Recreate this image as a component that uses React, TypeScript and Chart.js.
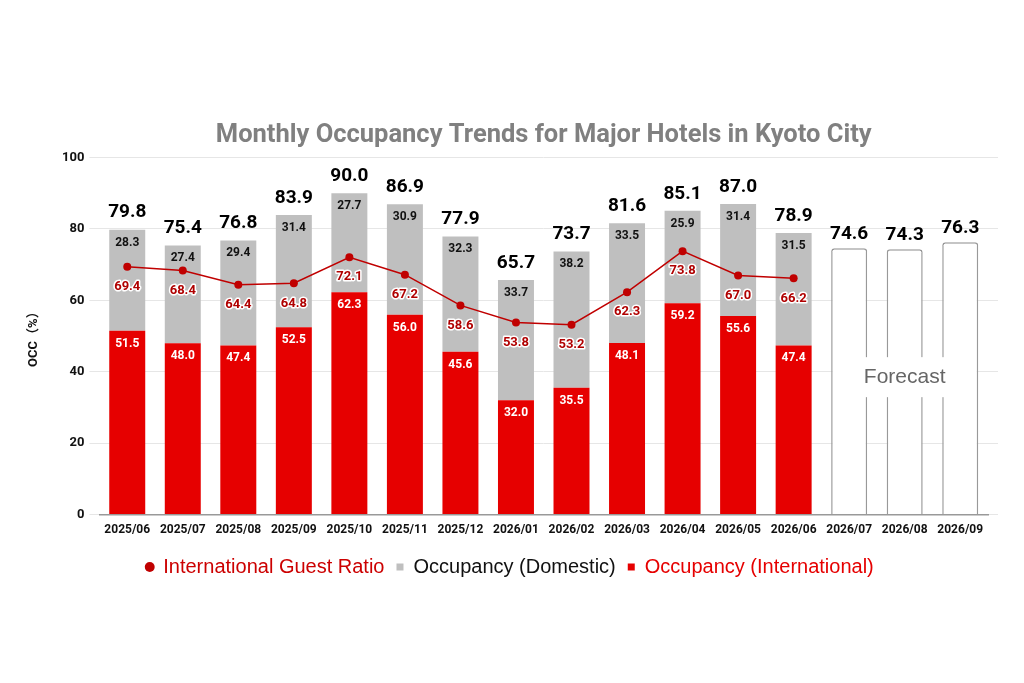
import { useEffect, useRef } from "react";
import { Chart, registerables } from "chart.js";

Chart.register(...registerables);

const months = [
  "2025/06", "2025/07", "2025/08", "2025/09", "2025/10", "2025/11", "2025/12",
  "2026/01", "2026/02", "2026/03", "2026/04", "2026/05", "2026/06",
  "2026/07", "2026/08", "2026/09",
];
const international = [51.5, 48.0, 47.4, 52.5, 62.3, 56.0, 45.6, 32.0, 35.5, 48.1, 59.2, 55.6, 47.4, null, null, null];
const domestic = [28.3, 27.4, 29.4, 31.4, 27.7, 30.9, 32.3, 33.7, 38.2, 33.5, 25.9, 31.4, 31.5, null, null, null];
const forecast = [null, null, null, null, null, null, null, null, null, null, null, null, null, 74.6, 74.3, 76.3];
const guestRatio = [69.4, 68.4, 64.4, 64.8, 72.1, 67.2, 58.6, 53.8, 53.2, 62.3, 73.8, 67.0, 66.2, null, null, null];
const yTicks = [0, 20, 40, 60, 80, 100];

const RED = "#e60000";
const GRAY = "#bfbfbf";
const DARK_RED = "#c00000";
const NUM_FONT = "Roboto, 'Liberation Sans', sans-serif";
const LEGEND_FONT = "'Liberation Sans', Arial, sans-serif";

const labelsPlugin = {
  id: "barLabels",
  afterDatasetsDraw(chart: any) {
    const ctx = chart.ctx;
    ctx.save();
    ctx.textAlign = "center";
    ctx.textBaseline = "middle";

    const intlMeta = chart.getDatasetMeta(0);
    const domMeta = chart.getDatasetMeta(1);
    const fcMeta = chart.getDatasetMeta(2);
    const ratioMeta = chart.getDatasetMeta(3);

    intlMeta.data.forEach((bar: any, i: number) => {
      const v = international[i];
      if (v == null) return;
      ctx.font = `bold 12px ${NUM_FONT}`;
      ctx.fillStyle = "#ffffff";
      ctx.fillText(v.toFixed(1), bar.x, bar.y + 13);
    });

    domMeta.data.forEach((bar: any, i: number) => {
      const v = domestic[i];
      if (v == null) return;
      ctx.font = `bold 12px ${NUM_FONT}`;
      ctx.fillStyle = "#111111";
      ctx.fillText(v.toFixed(1), bar.x, bar.y + 13);
      const total = (international[i] as number) + v;
      ctx.font = `bold 19px ${NUM_FONT}`;
      ctx.fillStyle = "#000000";
      ctx.fillText(total.toFixed(1), bar.x, bar.y - 17);
    });

    fcMeta.data.forEach((bar: any, i: number) => {
      const v = forecast[i];
      if (v == null) return;
      ctx.font = `bold 19px ${NUM_FONT}`;
      ctx.fillStyle = "#000000";
      ctx.fillText(v.toFixed(1), bar.x, bar.y - 14);
    });

    ratioMeta.data.forEach((pt: any, i: number) => {
      const v = guestRatio[i];
      if (v == null) return;
      ctx.font = `bold 13px ${NUM_FONT}`;
      ctx.lineWidth = 3;
      ctx.strokeStyle = "#ffffff";
      ctx.lineJoin = "round";
      ctx.strokeText(v.toFixed(1), pt.x, pt.y + 20);
      ctx.fillStyle = "#b00000";
      ctx.fillText(v.toFixed(1), pt.x, pt.y + 20);
    });

    // "Forecast" note over the middle forecast bar
    const fx = chart.scales.x.getPixelForValue(14);
    const fy = chart.scales.y.getPixelForValue(38.5);
    ctx.font = `21px ${LEGEND_FONT}`;
    const w = ctx.measureText("Forecast").width;
    ctx.fillStyle = "#ffffff";
    ctx.fillRect(fx - w / 2 - 5, fy - 20, w + 10, 40);
    ctx.fillStyle = "#666666";
    ctx.fillText("Forecast", fx, fy);

    ctx.restore();
  },
};

const App = () => {
  const canvasRef = useRef<HTMLCanvasElement | null>(null);
  const chartRef = useRef<Chart | null>(null);

  useEffect(() => {
    document.body.style.margin = "0";
    if (!canvasRef.current) return;
    if (chartRef.current) chartRef.current.destroy();

    chartRef.current = new Chart(canvasRef.current, {
      type: "bar",
      data: {
        labels: months,
        datasets: [
          {
            label: "Occupancy (International)",
            data: international,
            backgroundColor: RED,
            stack: "occ",
            order: 1,
            barPercentage: 0.8,
            categoryPercentage: 0.81,
          },
          {
            label: "Occupancy (Domestic)",
            data: domestic,
            backgroundColor: GRAY,
            stack: "occ",
            order: 1,
            barPercentage: 0.8,
            categoryPercentage: 0.81,
          },
          {
            label: "Forecast",
            data: forecast,
            backgroundColor: "#ffffff",
            borderColor: "#999999",
            borderWidth: 1.5,
            borderRadius: { topLeft: 3, topRight: 3, bottomLeft: 0, bottomRight: 0 },
            borderSkipped: "bottom",
            stack: "occ",
            order: 1,
            barPercentage: 0.8,
            categoryPercentage: 0.81,
          },
          {
            type: "line",
            label: "International Guest Ratio",
            data: guestRatio,
            borderColor: DARK_RED,
            backgroundColor: DARK_RED,
            borderWidth: 1.5,
            pointRadius: 4,
            pointHoverRadius: 4,
            pointBackgroundColor: DARK_RED,
            pointBorderWidth: 0,
            order: 0,
          } as any,
        ],
      },
      options: {
        responsive: true,
        maintainAspectRatio: false,
        animation: false,
        layout: { padding: { top: 120, left: 22, right: 26, bottom: 96 } },
        plugins: {
          title: {
            display: true,
            fullSize: false,
            text: "Monthly Occupancy Trends for Major Hotels in Kyoto City",
            color: "#808080",
            font: { family: NUM_FONT, size: 25.5, weight: "bold" },
            padding: { top: 0, bottom: 7 },
          },
          legend: {
            position: "bottom",
            labels: {
              usePointStyle: true,
              boxWidth: 7,
              boxHeight: 7,
              padding: 12,
              font: { family: LEGEND_FONT, size: 20 },
              generateLabels: () => [
                { text: "International Guest Ratio", fillStyle: DARK_RED, strokeStyle: DARK_RED, lineWidth: 0, pointStyle: "circle", fontColor: "#cc0000", datasetIndex: 3, hidden: false },
                { text: "Occupancy (Domestic)", fillStyle: GRAY, strokeStyle: GRAY, lineWidth: 0, pointStyle: "rect", fontColor: "#111111", datasetIndex: 1, hidden: false },
                { text: "Occupancy (International)", fillStyle: RED, strokeStyle: RED, lineWidth: 0, pointStyle: "rect", fontColor: RED, datasetIndex: 0, hidden: false },
              ] as any,
            },
          },
          tooltip: { enabled: false },
        },
        scales: {
          x: {
            stacked: true,
            grid: { display: false, drawTicks: false },
            border: { color: "#999999", width: 1.5 },
            ticks: {
              color: "#111111",
              padding: 8,
              font: { family: NUM_FONT, size: 12, weight: "bold" },
            },
          },
          y: {
            stacked: true,
            min: 0,
            max: 100,
            afterBuildTicks: (axis: any) => {
              axis.ticks = yTicks.map((v) => ({ value: v }));
            },
            grid: { color: "#e6e6e6", tickLength: 10 },
            border: { display: false },
            ticks: {
              color: "#111111",
              padding: 5,
              font: { family: NUM_FONT, size: 13, weight: "bold" },
            },
            title: {
              display: true,
              text: "OCC（%）",
              color: "#111111",
              font: { family: "Roboto, 'Noto Sans CJK JP', sans-serif", size: 13, weight: "bold" },
              padding: { top: 4, bottom: 15.5 },
            },
          },
          y2: {
            position: "right",
            min: 0,
            max: 100,
            afterBuildTicks: (axis: any) => {
              axis.ticks = yTicks.map((v) => ({ value: v }));
            },
            grid: { color: "#e6e6e6", tickLength: 10, drawOnChartArea: false },
            border: { display: false },
            ticks: { display: false },
          },
        },
      },
      plugins: [labelsPlugin],
    });

    return () => {
      if (chartRef.current) {
        chartRef.current.destroy();
        chartRef.current = null;
      }
    };
  }, []);

  return (
    <div style={{ width: 1024, height: 683, position: "relative", background: "#ffffff" }}>
      <canvas ref={canvasRef} />
    </div>
  );
};

export default App;
